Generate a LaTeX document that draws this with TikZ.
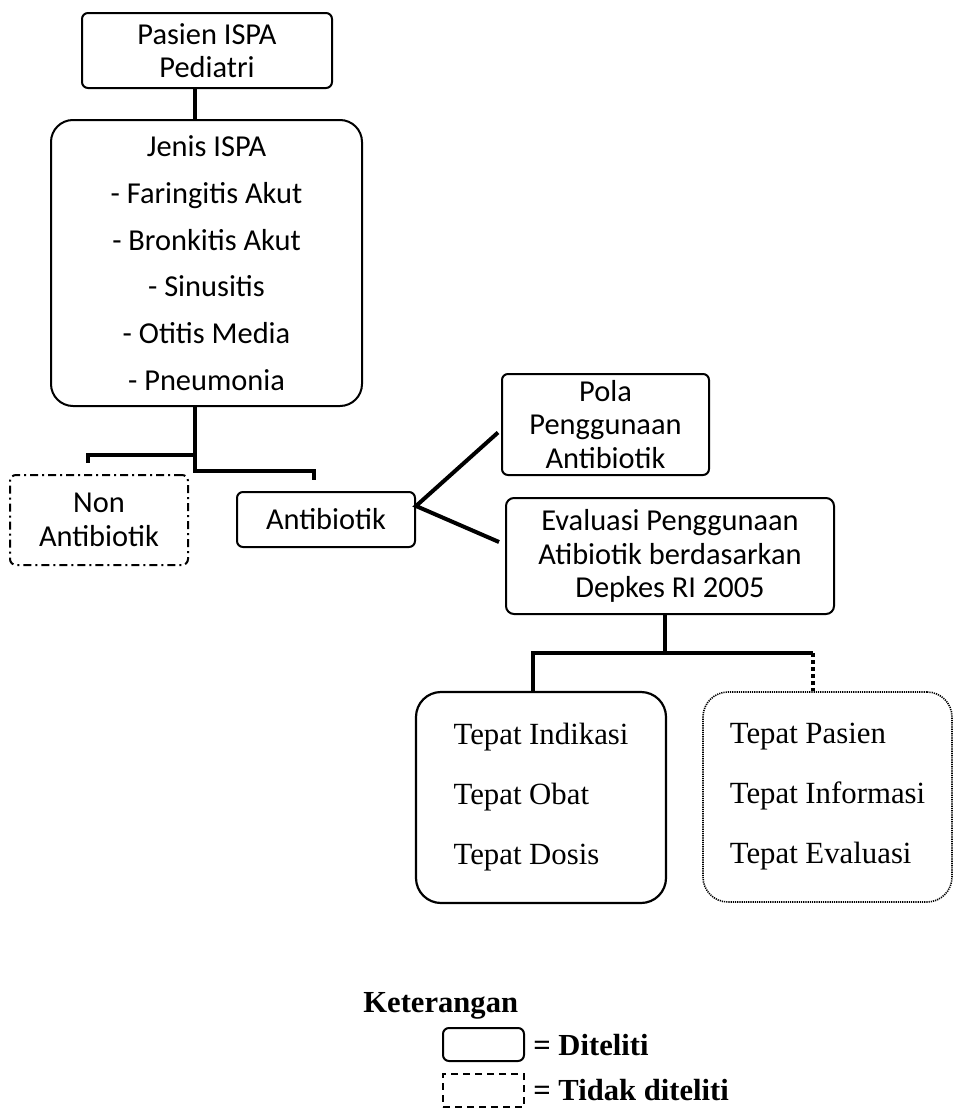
\documentclass[tikz,border=0pt]{standalone}
\usepackage{fontspec}
\setmainfont{Carlito}
\newfontfamily\timesfont{Liberation Serif}
\tikzset{
  kotak/.style={draw,line width=1pt,rounded corners=3pt,align=center,inner sep=0pt,
    font=\fontsize{15.2}{16.8}\selectfont},
  tepat/.style={draw,line width=1.1pt,rounded corners=12.5pt,align=left,inner sep=0pt,
    font=\timesfont\fontsize{15.4}{30}\selectfont},
  link/.style={line width=2pt},
  legtext/.style={anchor=west,inner sep=0pt,font=\timesfont\bfseries\fontsize{15.3}{17}\selectfont},
}
\begin{document}
\begin{tikzpicture}[x=0.5pt,y=-0.5pt]
 \useasboundingbox[fill=white] (0,0) rectangle (954,1108);

 \node[kotak,minimum width=125pt,minimum height=37.5pt] (pasien) at (207,50.5) {Pasien ISPA\\Pediatri};
 \node[kotak,minimum width=155.5pt,minimum height=143pt,rounded corners=11pt,
   font=\fontsize{15.2}{23.35}\selectfont] (jenis) at (206.5,263)
   {Jenis ISPA\\- Faringitis Akut\\- Bronkitis Akut\\- Sinusitis\\- Otitis Media\\- Pneumonia};
 \node[kotak,minimum width=89pt,minimum height=45pt,dash pattern=on 4pt off 2pt on 1pt off 2pt] (nonab) at (99,520) {Non\\Antibiotik};
 \node[kotak,minimum width=89pt,minimum height=27.5pt] (ab) at (326,519.5) {Antibiotik};
 \node[kotak,minimum width=103.5pt,minimum height=50.5pt] (pola) at (605.5,424.5) {Pola\\Penggunaan\\Antibiotik};
 \node[kotak,minimum width=164pt,minimum height=58pt,rounded corners=4pt] (eval) at (670,556)
   {Evaluasi Penggunaan\\Atibiotik berdasarkan\\Depkes RI 2005};
 \node[tepat,minimum width=125pt,minimum height=105.5pt] (tepatA) at (541,797.5)
   {Tepat Indikasi\\Tepat Obat\\Tepat Dosis};
 \node[tepat,minimum width=124.5pt,minimum height=105pt,line width=0.8pt,dash pattern=on 0.6pt off 0.5pt] (tepatB) at (827.5,797)
   {Tepat Pasien\\Tepat Informasi\\Tepat Evaluasi};

 \coordinate (trunk) at (195,0);
 \coordinate (nonbend) at (88,455);
 \coordinate (abbend) at (314,471);
 \coordinate (abfork) at (416,506);
 \coordinate (evtrunk) at (665,0);
 \coordinate (splitL) at (533,653);
 \coordinate (splitR) at (813,653);

 \draw[link] (pasien.south -| trunk) -- (jenis.north -| trunk);
 \draw[link] (jenis.south -| trunk) |- (abbend) -- ++(0,9);
 \draw[link] (trunk |- nonbend) -- (nonbend) -- ++(0,8);
 \draw[link] ([shift={(-3,8)}]pola.west) -- (abfork) -- ([shift={(-6,-14)}]eval.west);
 \draw[link] (eval.south -| evtrunk) -- (evtrunk |- splitL);
 \draw[link] (tepatA.north -| splitL) |- (splitR);
 \draw[link,dash pattern=on 2pt off 1.5pt] (splitR) -- (tepatB.north -| splitR);

 \node[legtext] (ket) at (363,1006) {Keterangan};
 \node[draw,line width=1pt,rounded corners=3pt,minimum width=40.5pt,minimum height=16.5pt,inner sep=0pt] (legA) at (483.5,1044.5) {};
 \node[draw,line width=1pt,dash pattern=on 3.5pt off 2.5pt,minimum width=40.5pt,minimum height=16.5pt,inner sep=0pt] (legB) at (483.5,1090.5) {};
 \node[legtext] (legAtext) at (533,1045) {= Diteliti};
 \node[legtext] (legBtext) at (533,1090) {= Tidak diteliti};
\end{tikzpicture}
\end{document}
